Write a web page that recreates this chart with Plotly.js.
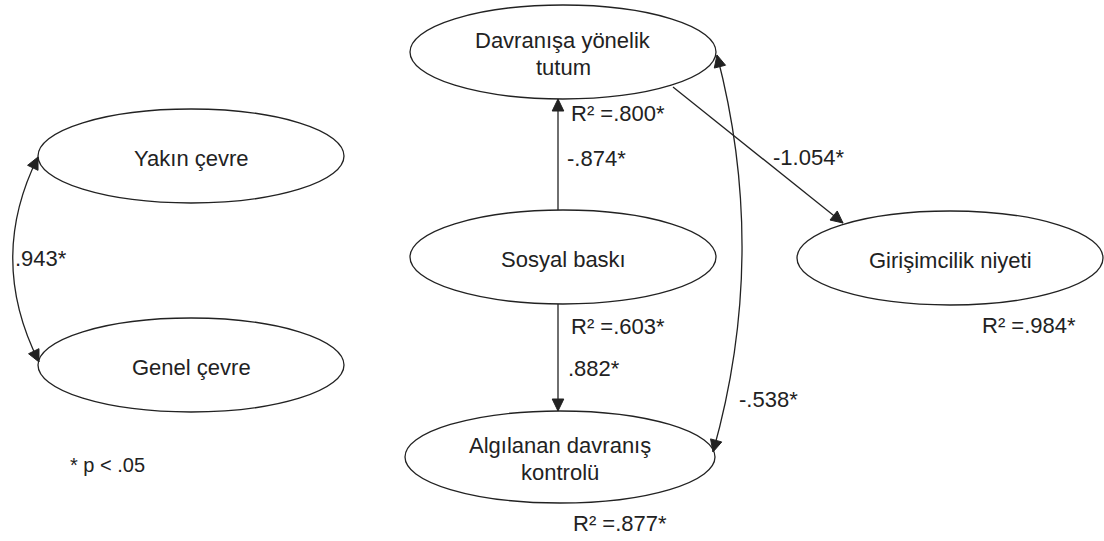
<!DOCTYPE html>
<html>
<head>
<meta charset="utf-8">
<script src="https://cdn.plot.ly/plotly-3.0.1.min.js"></script>
<style>html,body{margin:0;padding:0;background:#fff;}#chart{width:1104px;height:541px;}</style>
</head>
<body>
<div id="chart"></div>
<script>
// ---- data ----
const nodeIds    = ["yakin", "genel", "tutum", "sosyal", "kontrol", "niyet"];
const nodeLabels = ["Yakın çevre", "Genel çevre", "Davranışa yönelik|tutum", "Sosyal baskı", "Algılanan davranış|kontrolü", "Girişimcilik niyeti"];

const pathFrom  = ["sosyal", "sosyal", "tutum"];
const pathTo    = ["tutum", "kontrol", "niyet"];
const pathCoefs = ["-.874*", ".882*", "-1.054*"];

const covFrom  = ["yakin", "tutum"];
const covTo    = ["genel", "kontrol"];
const covCoefs = [".943*", "-.538*"];

const r2Labels = [".800*", ".603*", ".877*", ".984*"];
const noteText = "* p < .05";

// ---- layout geometry (pixel space) ----
const geom = {
  yakin:   {cx: 191, cy: 156, rx: 153, ry: 47},
  genel:   {cx: 191, cy: 365, rx: 153, ry: 47},
  tutum:   {cx: 563, cy: 52,  rx: 153, ry: 47},
  sosyal:  {cx: 563, cy: 257, rx: 153, ry: 47},
  kontrol: {cx: 560, cy: 457, rx: 155, ry: 46},
  niyet:   {cx: 950, cy: 258, rx: 153, ry: 47}
};
const pathGeom = [
  {tail: [558, 210], tip: [558, 99],  label: [565, 158]},
  {tail: [558, 304], tip: [558, 411], label: [566, 368]},
  {tail: [673, 87],  tip: [843, 223], label: [771, 157]}
];
const covGeom = [
  {p0: [38, 157], c: [-13, 259], p1: [39, 362], label: [13, 258]},
  {p0: [717, 55], c: [769, 254], p1: [713, 452], label: [737, 399]}
];
const r2Pos = [[569, 113], [569, 326], [571, 523], [980, 325]];
const notePos = [68, 465];

const ink = "#222";
const fnt = {family: "Liberation Sans, Arial, sans-serif", size: 22, color: ink};
const headLen = 12, headHalf = 5.8, lineGap = 27;

const shapes = [];
const annotations = [];

function label(x, y, text, anchor, font) {
  annotations.push({x: x, y: y, xref: "x", yref: "y", text: text, showarrow: false,
    font: font || fnt, xanchor: anchor, yanchor: "middle"});
}

nodeIds.forEach((id, i) => {
  const g = geom[id];
  shapes.push({type: "circle", xref: "x", yref: "y",
    x0: g.cx - g.rx, x1: g.cx + g.rx, y0: g.cy - g.ry, y1: g.cy + g.ry,
    line: {color: ink, width: 1.3}, fillcolor: "rgba(0,0,0,0)"});
  const lines = nodeLabels[i].split("|");
  const y0 = g.cy + 2 - (lines.length - 1) * lineGap / 2;
  lines.forEach((ln, k) => label(g.cx, y0 + k * lineGap, ln, "center"));
});

// filled triangular arrowhead with tip at `tip`, pointing away from `from`
function head(tip, from) {
  const dx = tip[0] - from[0], dy = tip[1] - from[1];
  const n = Math.hypot(dx, dy), ux = dx / n, uy = dy / n;
  const bx = tip[0] - ux * headLen, by = tip[1] - uy * headLen;
  const px = -uy * headHalf, py = ux * headHalf;
  shapes.push({type: "path", xref: "x", yref: "y",
    path: `M ${tip[0]},${tip[1]} L ${bx + px},${by + py} L ${bx - px},${by - py} Z`,
    fillcolor: ink, line: {color: ink, width: 1}});
}

pathFrom.forEach((f, i) => {
  const pg = pathGeom[i];
  shapes.push({type: "line", xref: "x", yref: "y",
    x0: pg.tail[0], y0: pg.tail[1], x1: pg.tip[0], y1: pg.tip[1], line: {color: ink, width: 1.3}});
  head(pg.tip, pg.tail);
  label(pg.label[0], pg.label[1], pathCoefs[i], "left");
});

function bez(p0, c, p1, t) {
  const a = (1 - t) * (1 - t), b = 2 * t * (1 - t), d = t * t;
  return [a * p0[0] + b * c[0] + d * p1[0], a * p0[1] + b * c[1] + d * p1[1]];
}

covFrom.forEach((f, i) => {
  const cg = covGeom[i];
  shapes.push({type: "path", xref: "x", yref: "y",
    path: `M ${cg.p0[0]},${cg.p0[1]} Q ${cg.c[0]},${cg.c[1]} ${cg.p1[0]},${cg.p1[1]}`,
    line: {color: ink, width: 1.3}});
  head(cg.p0, bez(cg.p0, cg.c, cg.p1, 0.04));
  head(cg.p1, bez(cg.p0, cg.c, cg.p1, 0.96));
  label(cg.label[0], cg.label[1], covCoefs[i], "left");
});

r2Labels.forEach((r, i) => label(r2Pos[i][0], r2Pos[i][1], "R² =" + r, "left"));

label(notePos[0], notePos[1], noteText, "left", Object.assign({}, fnt, {size: 20}));

const layout = {
  width: 1104, height: 541,
  margin: {l: 0, r: 0, t: 0, b: 0},
  paper_bgcolor: "#fff", plot_bgcolor: "#fff",
  xaxis: {range: [0, 1104], visible: false, fixedrange: true},
  yaxis: {range: [541, 0], visible: false, fixedrange: true},
  showlegend: false,
  shapes: shapes,
  annotations: annotations
};

Plotly.newPlot("chart", [{x: [], y: [], type: "scatter", mode: "markers", hoverinfo: "skip"}], layout,
  {displayModeBar: false, staticPlot: true});
</script>
</body>
</html>
